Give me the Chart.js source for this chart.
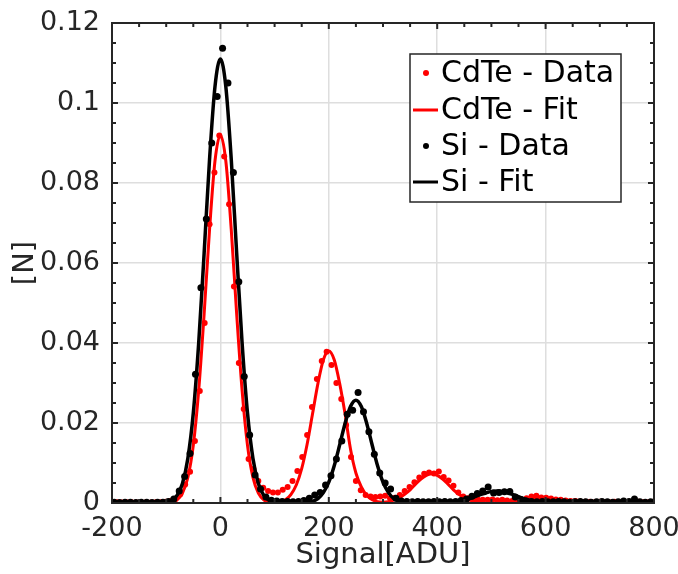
<!DOCTYPE html>
<html>
<head>
<meta charset="utf-8">
<script src="https://cdn.jsdelivr.net/npm/chart.js@4.4.1/dist/chart.umd.min.js"></script>
<style>
  html, body { margin: 0; padding: 0; background: #fff; }
  #wrap { width: 678px; height: 574px; position: relative; }
</style>
</head>
<body>
<div id="wrap"><canvas id="spectrum"></canvas></div>
<script>
// CdTe histogram (bin centre, normalised counts)
cdteSignal = [
  -200,-191,-182,-173,-164,-155,-146,-137,-128,-119,
  -110,-101,-92,-83,-74,-65,-56,-47,-38,-29,
  -20,-11,-2,7,16,25,34,43,52,61,
  70,79,88,97,106,115,124,133,142,151,
  160,169,178,187,196,205,214,223,232,241,
  250,259,268,277,286,295,304,313,322,331,
  340,349,358,367,376,385,394,403,412,421,
  430,439,448,457,466,475,484,493,502,511,
  520,529,538,547,556,565,574,583,592,601,
  610,619,628,637,646,655,664,673,682,691,
  700,709,718,727,736,745,754,763,772,781,
  790,799
];
cdteCounts = [
  0.0002,0.0002,0.0001,0.0002,0.0002,0.0001,0.0002,0.0002,0.0001,0.0002,
  0.0002,0.0003,0.0005,0.0010,0.0022,0.0046,0.0078,0.0155,0.0280,0.0450,
  0.0697,0.0826,0.0919,0.0866,0.0747,0.0541,0.0350,0.0235,0.0110,0.0085,
  0.0055,0.0038,0.0030,0.0026,0.0026,0.0033,0.0040,0.0055,0.0080,0.0115,
  0.0170,0.0240,0.0310,0.0355,0.0378,0.0345,0.0300,0.0260,0.0195,0.0115,
  0.0055,0.0032,0.0020,0.0016,0.0015,0.0016,0.0018,0.0012,0.0013,0.0020,
  0.0030,0.0040,0.0052,0.0064,0.0073,0.0076,0.0074,0.0079,0.0065,0.0056,
  0.0043,0.0026,0.0016,0.0012,0.0010,0.0009,0.0008,0.0008,0.0009,0.0007,
  0.0008,0.0006,0.0005,0.0006,0.0009,0.0012,0.0016,0.0018,0.0014,0.0013,
  0.0011,0.0009,0.0008,0.0006,0.0005,0.0005,0.0004,0.0003,0.0003,0.0002,
  0.0003,0.0002,0.0002,0.0003,0.0002,0.0002,0.0003,0.0002,0.0003,0.0002,
  0.0002,0.0003
];

// Si histogram
siSignal = [
  -196,-186,-176,-166,-156,-146,-136,-126,-116,-106,
  -96,-86,-76,-66,-56,-46,-36,-26,-16,-6,
  4,14,24,34,44,54,64,74,84,94,
  104,114,124,134,144,154,164,174,184,194,
  204,214,224,234,244,254,264,274,284,294,
  304,314,324,334,344,354,364,374,384,394,
  404,414,424,434,444,454,464,474,484,494,
  504,514,524,534,544,554,564,574,584,594,
  604,614,624,634,644,654,664,674,684,694,
  704,714,724,734,744,754,764,774,784,794
];
siCounts = [
  0.0002,0.0001,0.0002,0.0002,0.0001,0.0002,0.0002,0.0001,0.0002,0.0002,
  0.0004,0.0010,0.0030,0.0066,0.0124,0.0322,0.0538,0.0710,0.0900,0.1016,
  0.1137,0.1050,0.0826,0.0553,0.0316,0.0170,0.0070,0.0035,0.0015,0.0007,
  0.0005,0.0004,0.0004,0.0003,0.0004,0.0006,0.0012,0.0020,0.0026,0.0045,
  0.0068,0.0110,0.0155,0.0222,0.0232,0.0276,0.0228,0.0178,0.0122,0.0075,
  0.0050,0.0035,0.0012,0.0005,0.0004,0.0003,0.0004,0.0003,0.0003,0.0004,
  0.0003,0.0004,0.0003,0.0004,0.0006,0.0010,0.0017,0.0024,0.0030,0.0040,
  0.0025,0.0026,0.0028,0.0029,0.0015,0.0009,0.0005,0.0004,0.0003,0.0004,
  0.0003,0.0003,0.0004,0.0003,0.0002,0.0003,0.0004,0.0003,0.0002,0.0003,
  0.0004,0.0003,0.0002,0.0003,0.0005,0.0004,0.0010,0.0003,0.0002,0.0003
];

// fitted curves, every 10 ADU
fitSignal = [
  -200,-190,-180,-170,-160,-150,-140,-130,-120,-110,
  -100,-90,-80,-70,-60,-50,-40,-30,-20,-10,
  0,10,20,30,40,50,60,70,80,90,
  100,110,120,130,140,150,160,170,180,190,
  200,210,220,230,240,250,260,270,280,290,
  300,310,320,330,340,350,360,370,380,390,
  400,410,420,430,440,450,460,470,480,490,
  500,510,520,530,540,550,560,570,580,590,
  600,610,620,630,640,650,660,670,680,690,
  700,710,720,730,740,750,760,770,780,790,
  800
];
cdteFit = [
  0,0,0,0,0,0,0,0,0,0,
  0.0001,0.0002,0.0008,0.0025,0.0064,0.0144,0.0282,0.0473,0.0684,0.0855,
  0.0920,0.0855,0.0684,0.0473,0.0282,0.0144,0.0064,0.0025,0.0008,0.0002,
  0.0002,0.0003,0.0008,0.0021,0.0045,0.0086,0.0147,0.0223,0.0299,0.0358,
  0.0380,0.0358,0.0299,0.0223,0.0135,0.0075,0.0040,0.0019,0.0008,0.0003,
  0.0002,0.0003,0.0007,0.0013,0.0022,0.0033,0.0047,0.0060,0.0069,0.0073,
  0.0069,0.0060,0.0047,0.0033,0.0022,0.0013,0.0007,0.0003,0.0001,0,
  0,0,0.0001,0.0002,0.0004,0.0006,0.0008,0.0011,0.0012,0.0013,
  0.0012,0.0011,0.0008,0.0006,0.0004,0.0002,0.0001,0,0,0,
  0,0,0,0,0,0,0,0,0,0,
  0
];
siFit = [
  0,0,0,0,0,0,0,0,0,0,
  0.0002,0.0006,0.0019,0.0049,0.0112,0.0225,0.0401,0.0625,0.0860,0.1041,
  0.1110,0.1041,0.0860,0.0625,0.0401,0.0225,0.0112,0.0049,0.0019,0.0006,
  0.0002,0.0001,0,0,0,0,0.0001,0.0004,0.0011,0.0026,
  0.0052,0.0093,0.0145,0.0199,0.0241,0.0257,0.0241,0.0199,0.0145,0.0093,
  0.0052,0.0026,0.0011,0.0004,0.0001,0,0,0,0,0,
  0,0,0,0.0002,0.0004,0.0007,0.0011,0.0016,0.0021,0.0025,
  0.0029,0.0030,0.0029,0.0025,0.0021,0.0016,0.0011,0.0007,0.0004,0.0002,
  0,0,0,0,0,0,0,0,0,0,
  0,0,0,0,0,0,0,0,0,0,
  0
];

xTicks = [-200, 0, 200, 400, 600, 800];
yTicks = [0, 0.02, 0.04, 0.06, 0.08, 0.1, 0.12];

FONT = 'DejaVu Sans';
AXIS = '#262626';
RED = '#ff0000';

function pts(xs, ys) {
  return xs.map((x, i) => ({x: x, y: ys[i]}));
}

// MATLAB-like box with inward ticks, plus the boxed legend inside the axes
boxPlugin = {
  id: 'box',
  afterDraw(chart) {
    const ctx = chart.ctx;
    const a = chart.chartArea;
    const xs = chart.scales.x, ys = chart.scales.y;
    ctx.save();
    ctx.strokeStyle = AXIS;
    ctx.lineWidth = 2;
    ctx.beginPath();
    for (let v = -200; v <= 800; v += 50) {
      const px = xs.getPixelForValue(v);
      const len = v % 200 === 0 ? 6 : 4;
      ctx.moveTo(px, a.bottom); ctx.lineTo(px, a.bottom - len);
      ctx.moveTo(px, a.top); ctx.lineTo(px, a.top + len);
    }
    for (let k = 0; k <= 24; k++) {
      const py = ys.getPixelForValue(k * 0.005);
      const len = k % 4 === 0 ? 6 : 4;
      ctx.moveTo(a.left, py); ctx.lineTo(a.left + len, py);
      ctx.moveTo(a.right, py); ctx.lineTo(a.right - len, py);
    }
    ctx.stroke();
    ctx.strokeRect(a.left, a.top, a.right - a.left, a.bottom - a.top);

    // legend
    const lx = 410, ly = 54, lw = 211, lh = 148;
    ctx.fillStyle = '#fff';
    ctx.fillRect(lx, ly, lw, lh);
    ctx.lineWidth = 1.5;
    ctx.strokeStyle = AXIS;
    ctx.strokeRect(lx, ly, lw, lh);
    ctx.font = '30px "' + FONT + '"';
    ctx.textBaseline = 'middle';
    ctx.textAlign = 'left';
    const rows = [73, 110, 146, 182];
    chart.data.datasets.forEach((ds, i) => {
      const y = rows[i];
      if (ds.showLine) {
        ctx.strokeStyle = ds.borderColor;
        ctx.lineWidth = 3;
        ctx.beginPath();
        ctx.moveTo(413, y); ctx.lineTo(438, y);
        ctx.stroke();
      } else {
        ctx.fillStyle = ds.backgroundColor;
        ctx.beginPath();
        ctx.arc(426, y, 3, 0, Math.PI * 2);
        ctx.fill();
      }
      ctx.fillStyle = '#000';
      ctx.fillText(ds.label, 441, y + 1);
    });
    ctx.restore();
  }
};

Chart.defaults.font.family = FONT;
Chart.defaults.color = AXIS;

ctx = document.getElementById('spectrum').getContext('2d');
spectrumChart = new Chart(ctx, {
  type: 'scatter',
  data: {
    datasets: [
      {
        label: 'CdTe - Data',
        data: pts(cdteSignal, cdteCounts),
        backgroundColor: RED, borderColor: RED,
        pointRadius: 3, pointBorderWidth: 0,
        showLine: false, order: 4
      },
      {
        label: 'CdTe - Fit',
        data: pts(fitSignal, cdteFit),
        borderColor: RED, backgroundColor: RED,
        borderWidth: 3, pointRadius: 0,
        showLine: true, cubicInterpolationMode: 'monotone', order: 3
      },
      {
        label: 'Si - Data',
        data: pts(siSignal, siCounts),
        backgroundColor: '#000', borderColor: '#000',
        pointRadius: 3.5, pointBorderWidth: 0,
        showLine: false, order: 2
      },
      {
        label: 'Si - Fit',
        data: pts(fitSignal, siFit),
        borderColor: '#000', backgroundColor: '#000',
        borderWidth: 3.5, pointRadius: 0,
        showLine: true, cubicInterpolationMode: 'monotone', order: 1
      }
    ]
  },
  options: {
    responsive: true,
    maintainAspectRatio: false,
    animation: false,
    layout: { padding: { left: 0, top: 23, right: 24, bottom: 0 } },
    plugins: { legend: { display: false }, tooltip: { enabled: false } },
    scales: {
      x: {
        type: 'linear', min: -200, max: 800,
        afterBuildTicks: s => { s.ticks = xTicks.map(v => ({value: v})); },
        afterFit: s => { s.height = 71; s.paddingLeft = 0; s.paddingRight = 0; },
        grid: { color: '#dedede', lineWidth: 1.5, drawTicks: false },
        border: { display: false },
        ticks: { padding: 10, font: { size: 27 }, color: AXIS, maxRotation: 0 },
        title: { display: true, text: 'Signal[ADU]', font: { size: 29 }, color: AXIS, padding: { top: 0, bottom: 1 } }
      },
      y: {
        type: 'linear', min: 0, max: 0.12,
        afterBuildTicks: s => { s.ticks = yTicks.map(v => ({value: v})); },
        afterFit: s => { s.width = 112; s.paddingTop = 0; s.paddingBottom = 0; },
        grid: { color: '#dedede', lineWidth: 1.5, drawTicks: false },
        border: { display: false },
        ticks: { padding: 12, font: { size: 27 }, color: AXIS, callback: v => String(+v.toFixed(2)) },
        title: { display: true, text: '[N]', font: { size: 29 }, color: AXIS, padding: { top: 8, bottom: 0 } }
      }
    }
  },
  plugins: [boxPlugin]
});
</script>
</body>
</html>
